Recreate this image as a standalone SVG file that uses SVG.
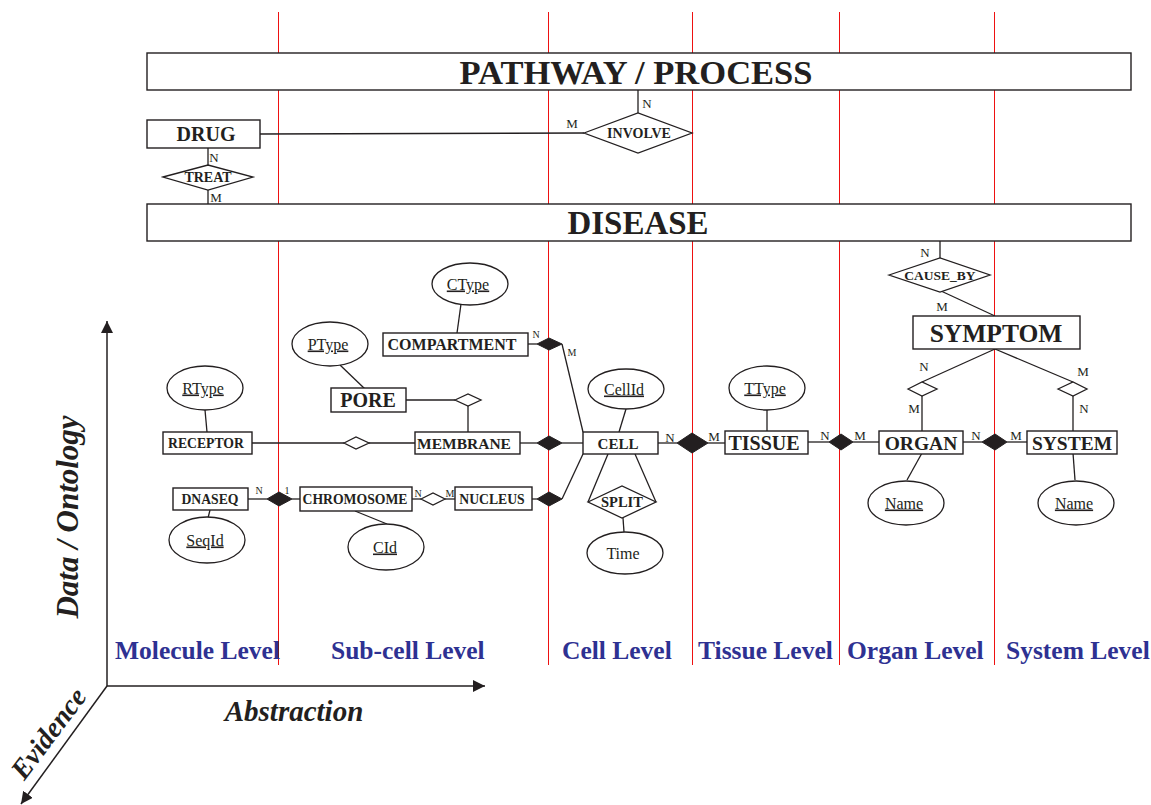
<svg xmlns="http://www.w3.org/2000/svg" width="1151" height="805" viewBox="0 0 1151 805">
  <defs>
    <marker id="arrow" viewBox="0 0 12 12" refX="12" refY="6" markerWidth="12" markerHeight="12" markerUnits="userSpaceOnUse" orient="auto">
      <path d="M0,0 L12,6 L0,12 Z" fill="#231f20"/>
    </marker>
    <style>
      .box { fill: #fff; stroke: #231f20; stroke-width: 1.4; }
      .rel { fill: #fff; stroke: #231f20; stroke-width: 1.3; }
      .agg { fill: #231f20; stroke: #231f20; stroke-width: 1; }
      .attr { fill: #fff; stroke: #231f20; stroke-width: 1.3; }
      .ln { fill: none; stroke: #231f20; stroke-width: 1.3; }
      .lvl { stroke: #ee1111; stroke-width: 1; shape-rendering: crispEdges; }
      .ax { fill: none; stroke: #231f20; stroke-width: 1.5; }
      text { font-family: "Liberation Serif", "Times New Roman", serif; fill: #231f20; }
      .ent { font-weight: bold; text-anchor: middle; }
      .atx { font-size: 16px; text-anchor: middle; text-decoration: underline; }
      .plain { font-size: 16px; text-anchor: middle; }
      .card { font-size: 13px; text-anchor: middle; }
      .small { font-size: 10px; }
      .level { font-size: 25.5px; font-weight: bold; fill: #2e3192; }
      .axis { font-weight: bold; font-style: italic; text-anchor: middle; }
    </style>
  </defs>

  <rect width="1151" height="805" fill="#fff"/>

  <!-- abstraction level separators -->
  <g id="levels">
    <line class="lvl" x1="278.5" y1="12" x2="278.5" y2="665"/>
    <line class="lvl" x1="548.5" y1="12" x2="548.5" y2="665"/>
    <line class="lvl" x1="692.5" y1="12" x2="692.5" y2="665"/>
    <line class="lvl" x1="839.5" y1="12" x2="839.5" y2="665"/>
    <line class="lvl" x1="994.5" y1="12" x2="994.5" y2="665"/>
  </g>

  <!-- connectors -->
  <g id="connectors">
    <line class="ln" x1="638" y1="90" x2="638" y2="113"/>
    <line class="ln" x1="260" y1="134" x2="584" y2="133"/>
    <line class="ln" x1="208" y1="148" x2="208" y2="165"/>
    <line class="ln" x1="208" y1="190" x2="208" y2="204"/>
    <line class="ln" x1="940" y1="241" x2="940" y2="258"/>
    <line class="ln" x1="941" y1="291" x2="995" y2="316"/>
    <line class="ln" x1="995" y1="349" x2="922" y2="382"/>
    <line class="ln" x1="995" y1="349" x2="1073" y2="382"/>
    <line class="ln" x1="922" y1="396" x2="922" y2="431"/>
    <line class="ln" x1="1073" y1="396" x2="1073" y2="431"/>
    <line class="ln" x1="808" y1="442" x2="829" y2="442"/>
    <line class="ln" x1="853" y1="442" x2="879" y2="442"/>
    <line class="ln" x1="963" y1="442" x2="982" y2="442"/>
    <line class="ln" x1="1007" y1="442" x2="1027" y2="442"/>
    <line class="ln" x1="922" y1="453" x2="907" y2="480"/>
    <line class="ln" x1="1073" y1="453" x2="1075" y2="480"/>
    <line class="ln" x1="767" y1="410" x2="767" y2="431"/>
    <line class="ln" x1="658" y1="443" x2="677" y2="443"/>
    <line class="ln" x1="708" y1="443" x2="725" y2="443"/>
    <line class="ln" x1="626" y1="409" x2="619" y2="432"/>
    <line class="ln" x1="608" y1="454" x2="588" y2="502"/>
    <line class="ln" x1="635" y1="454" x2="656" y2="502"/>
    <line class="ln" x1="623" y1="518" x2="624" y2="532"/>
    <line class="ln" x1="461" y1="304" x2="457" y2="333"/>
    <line class="ln" x1="528" y1="344" x2="537" y2="344"/>
    <line class="ln" x1="562" y1="344" x2="583" y2="432"/>
    <line class="ln" x1="340" y1="365" x2="365" y2="389"/>
    <line class="ln" x1="406" y1="400" x2="455" y2="400"/>
    <line class="ln" x1="468" y1="406" x2="468" y2="432"/>
    <line class="ln" x1="205" y1="410" x2="207" y2="432"/>
    <line class="ln" x1="252" y1="443" x2="344" y2="443"/>
    <line class="ln" x1="369" y1="443" x2="415" y2="443"/>
    <line class="ln" x1="520" y1="443" x2="537" y2="443"/>
    <line class="ln" x1="562" y1="443" x2="583" y2="443"/>
    <line class="ln" x1="532" y1="499" x2="537" y2="499"/>
    <line class="ln" x1="562" y1="499" x2="583" y2="454"/>
    <line class="ln" x1="412" y1="499" x2="421" y2="499"/>
    <line class="ln" x1="445" y1="499" x2="455" y2="499"/>
    <line class="ln" x1="248" y1="499" x2="267" y2="499"/>
    <line class="ln" x1="292" y1="499" x2="300" y2="499"/>
    <line class="ln" x1="210" y1="510" x2="208" y2="518"/>
    <line class="ln" x1="355" y1="511" x2="387" y2="524"/>

    <!-- relationship cardinalities -->
    <text class="card" x="647" y="108">N</text>
    <text class="card" x="572" y="128">M</text>
    <text class="card" x="214" y="162">N</text>
    <text class="card" x="216" y="202">M</text>
    <text class="card" x="925" y="257">N</text>
    <text class="card" x="942" y="311">M</text>
    <text class="card" x="924" y="371">N</text>
    <text class="card" x="1083" y="376">M</text>
    <text class="card" x="914" y="413">M</text>
    <text class="card" x="1084" y="413">N</text>
    <text class="card" x="825" y="440">N</text>
    <text class="card" x="860" y="440">M</text>
    <text class="card" x="976" y="440">N</text>
    <text class="card" x="1016" y="440">M</text>
    <text class="card" x="670" y="442">N</text>
    <text class="card" x="714" y="441">M</text>
    <text class="card small" x="536" y="338">N</text>
    <text class="card small" x="572" y="356">M</text>
    <text class="card small" x="259" y="494">N</text>
    <text class="card small" x="287" y="494">1</text>
    <text class="card small" x="418" y="497">N</text>
    <text class="card small" x="450" y="497">M</text>
  </g>

  <!-- top-level concepts -->
  <g id="pathway">
    <rect class="box" x="147" y="53" width="984" height="37"/>
    <text class="ent" x="636" y="83.5" font-size="34" textLength="353" lengthAdjust="spacingAndGlyphs">PATHWAY / PROCESS</text>
  </g>
  <g id="disease">
    <rect class="box" x="147" y="204" width="984" height="37"/>
    <text class="ent" x="638" y="234" font-size="33" textLength="141" lengthAdjust="spacingAndGlyphs">DISEASE</text>
  </g>
  <g id="drug">
    <rect class="box" x="147" y="120" width="113" height="28"/>
    <text class="ent" x="206" y="141" font-size="20">DRUG</text>
  </g>
  <g id="involve">
    <polygon class="rel" points="584,133 638,113 692,133 638,153"/>
    <text class="ent" x="639" y="138" font-size="14">INVOLVE</text>
  </g>
  <g id="treat">
    <polygon class="rel" points="163,177 208,165 253,177 208,190"/>
    <text class="ent" x="208" y="182" font-size="14">TREAT</text>
  </g>
  <g id="cause_by">
    <polygon class="rel" points="889,275 940,258 990,275 940,292"/>
    <text class="ent" x="940" y="280" font-size="13.5">CAUSE_BY</text>
  </g>
  <g id="symptom">
    <rect class="box" x="913" y="316" width="167" height="33"/>
    <text class="ent" x="996" y="341.5" font-size="25.5">SYMPTOM</text>
  </g>
  <g id="symptom_organ">
    <polygon class="rel" points="908,389 922,382 937,389 922,396"/>
  </g>
  <g id="symptom_system">
    <polygon class="rel" points="1058,389 1073,382 1087,389 1073,396"/>
  </g>

  <!-- organ and system level -->
  <g id="organ">
    <rect class="box" x="879" y="431" width="84" height="23"/>
    <text class="ent" x="921" y="449.5" font-size="19.5">ORGAN</text>
  </g>
  <g id="organ_system">
    <polygon class="agg" points="982,442 995,434 1007,442 995,450"/>
  </g>
  <g id="system">
    <rect class="box" x="1027" y="431" width="90" height="23"/>
    <text class="ent" x="1072" y="449.5" font-size="19.5">SYSTEM</text>
  </g>
  <g id="organ_name">
    <ellipse class="attr" cx="906" cy="503" rx="38" ry="22"/>
    <text class="atx" x="904" y="508.5">Name</text>
  </g>
  <g id="system_name">
    <ellipse class="attr" cx="1076" cy="503" rx="38" ry="22"/>
    <text class="atx" x="1074" y="508.5">Name</text>
  </g>

  <!-- tissue level -->
  <g id="tissue_organ">
    <polygon class="agg" points="829,442 841,434 853,442 841,450"/>
  </g>
  <g id="tissue">
    <rect class="box" x="725" y="431" width="83" height="23"/>
    <text class="ent" x="764" y="449.5" font-size="20">TISSUE</text>
  </g>
  <g id="ttype">
    <ellipse class="attr" cx="767" cy="388" rx="38" ry="22"/>
    <text class="atx" x="765" y="393.5">TType</text>
  </g>

  <!-- cell level -->
  <g id="cell_tissue">
    <polygon class="agg" points="677,443 692,433 708,443 692,453"/>
  </g>
  <g id="cell">
    <rect class="box" x="583" y="432" width="75" height="22"/>
    <text class="ent" x="618" y="448.5" font-size="15">CELL</text>
  </g>
  <g id="cellid">
    <ellipse class="attr" cx="626" cy="389" rx="38" ry="20"/>
    <text class="atx" x="624" y="394.5">CellId</text>
  </g>
  <g id="split">
    <polygon class="rel" points="588,502 622,486 656,502 622,518"/>
    <text class="ent" x="622" y="507" font-size="14.5">SPLIT</text>
  </g>
  <g id="time">
    <ellipse class="attr" cx="625" cy="553" rx="38" ry="21"/>
    <text class="plain" x="623" y="558.5">Time</text>
  </g>

  <!-- sub-cell level -->
  <g id="compartment_cell">
    <polygon class="agg" points="537,344 549,338 562,344 549,350"/>
  </g>
  <g id="compartment">
    <rect class="box" x="383" y="333" width="145" height="23"/>
    <text class="ent" x="452" y="350" font-size="16">COMPARTMENT</text>
  </g>
  <g id="ctype">
    <ellipse class="attr" cx="470" cy="284" rx="38" ry="21"/>
    <text class="atx" x="468" y="289.5">CType</text>
  </g>
  <g id="pore">
    <rect class="box" x="331" y="388" width="75" height="24"/>
    <text class="ent" x="368" y="407" font-size="20">PORE</text>
  </g>
  <g id="ptype">
    <ellipse class="attr" cx="330" cy="344" rx="38" ry="22"/>
    <text class="atx" x="328" y="349.5">PType</text>
  </g>
  <g id="pore_membrane">
    <polygon class="rel" points="455,400 468,394 481,400 468,406"/>
  </g>
  <g id="membrane_cell">
    <polygon class="agg" points="537,443 549,436 562,443 549,450"/>
  </g>
  <g id="membrane">
    <rect class="box" x="415" y="432" width="105" height="22"/>
    <text class="ent" x="464" y="448.5" font-size="15.5">MEMBRANE</text>
  </g>
  <g id="nucleus_cell">
    <polygon class="agg" points="537,499 549,492 562,499 549,506"/>
  </g>
  <g id="nucleus">
    <rect class="box" x="455" y="487" width="77" height="23"/>
    <text class="ent" x="492" y="503.5" font-size="13.7">NUCLEUS</text>
  </g>
  <g id="chromosome_nucleus">
    <polygon class="rel" points="421,499 433,493 445,499 433,505"/>
  </g>
  <g id="chromosome">
    <rect class="box" x="300" y="487" width="112" height="24"/>
    <text class="ent" x="355" y="504" font-size="13.7">CHROMOSOME</text>
  </g>
  <g id="cid">
    <ellipse class="attr" cx="386" cy="547" rx="38" ry="23"/>
    <text class="atx" x="385" y="552.5">CId</text>
  </g>

  <!-- molecule level -->
  <g id="receptor">
    <rect class="box" x="163" y="432" width="89" height="22"/>
    <text class="ent" x="206" y="448" font-size="13.7">RECEPTOR</text>
  </g>
  <g id="rtype">
    <ellipse class="attr" cx="205" cy="388" rx="38" ry="22"/>
    <text class="atx" x="203" y="393.5">RType</text>
  </g>
  <g id="receptor_membrane">
    <polygon class="rel" points="344,443 356,437 369,443 356,449"/>
  </g>
  <g id="dnaseq">
    <rect class="box" x="173" y="488" width="75" height="22"/>
    <text class="ent" x="210" y="504" font-size="13.7">DNASEQ</text>
  </g>
  <g id="dnaseq_chromosome">
    <polygon class="agg" points="267,499 279,492 292,499 279,506"/>
  </g>
  <g id="seqid">
    <ellipse class="attr" cx="207" cy="540" rx="38" ry="23"/>
    <text class="atx" x="205" y="545.5">SeqId</text>
  </g>

  <!-- level captions -->
  <g id="level-labels">
    <text class="level" x="115" y="659">Molecule Level</text>
    <text class="level" x="331" y="659">Sub-cell Level</text>
    <text class="level" x="562" y="659">Cell Level</text>
    <text class="level" x="698" y="659">Tissue Level</text>
    <text class="level" x="847" y="659">Organ Level</text>
    <text class="level" x="1006" y="659">System Level</text>
  </g>

  <!-- axes -->
  <g id="axes">
    <line class="ax" x1="107" y1="686" x2="107" y2="321" marker-end="url(#arrow)"/>
    <line class="ax" x1="107" y1="686" x2="485" y2="686" marker-end="url(#arrow)"/>
    <line class="ax" x1="107" y1="686" x2="21" y2="804" marker-end="url(#arrow)"/>
    <text class="axis" font-size="31" x="0" y="0" transform="translate(78,517) rotate(-90)">Data / Ontology</text>
    <text class="axis" font-size="29" x="294" y="721">Abstraction</text>
    <text class="axis" font-size="28" x="0" y="0" transform="translate(56,739) rotate(-53)">Evidence</text>
  </g>
</svg>
